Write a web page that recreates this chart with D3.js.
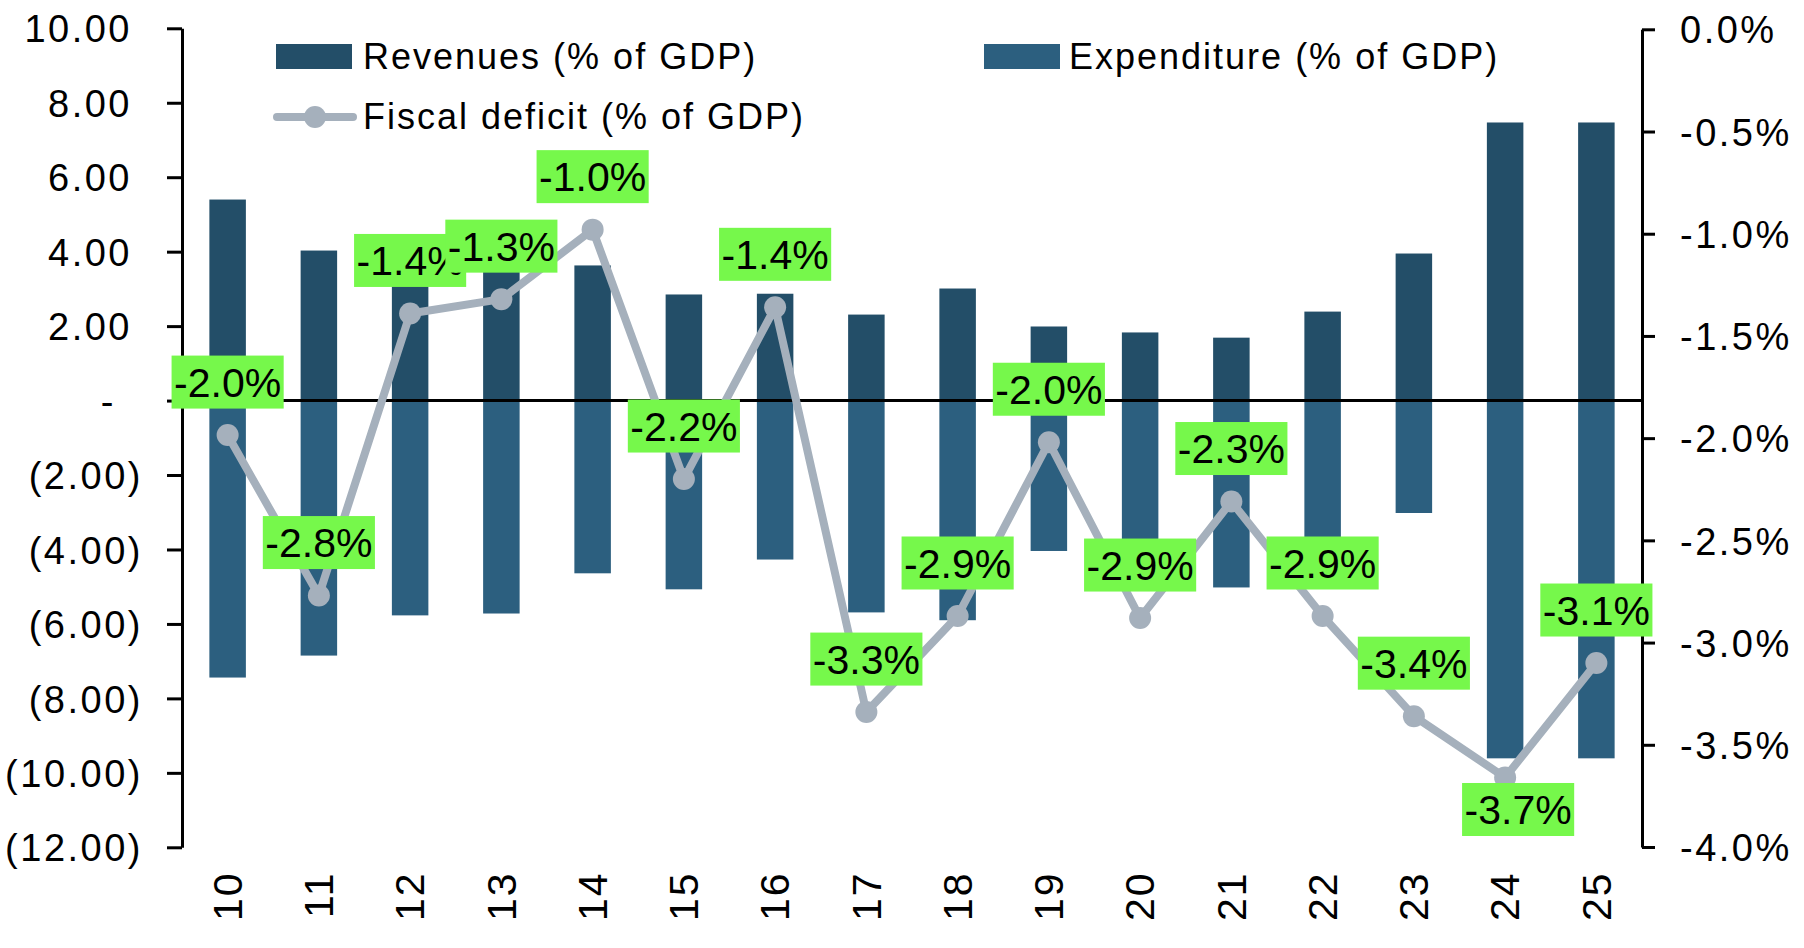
<!DOCTYPE html>
<html>
  <head>
    <meta charset="utf-8" />
    <title>Revenues, expenditure and fiscal deficit</title>
    <script src="https://d3js.org/d3.v7.min.js"></script>
    <style>
      body {
        margin: 0;
        background: #fff;
      }
      svg text {
        font-family: "Liberation Sans", Arial, sans-serif;
        fill: #000;
      }
      text.tick-label {
        font-size: 38px;
        letter-spacing: 2.5px;
      }
      text.legend {
        font-size: 36px;
        letter-spacing: 2px;
      }
      text.xlab {
        font-size: 41px;
        letter-spacing: 2px;
      }
      text.dlabel {
        font-size: 41px;
      }
    </style>
  </head>
  <body>
    <svg id="chart" width="1804" height="948"></svg>

    <script>
      // --- data ---
      const years = ["10", "11", "12", "13", "14", "15", "16", "17",
                     "18", "19", "20", "21", "22", "23", "24", "25"];
      const revenues = [5.40, 4.03, 3.35, 3.55, 3.63, 2.85, 2.87, 2.31,
                        3.01, 1.99, 1.83, 1.69, 2.39, 3.95, 7.47, 7.47];
      const expenditure = [-7.44, -6.85, -5.77, -5.72, -4.64, -5.07, -4.27, -5.69,
                           -5.90, -4.04, -4.60, -5.02, -4.20, -3.02, -9.61, -9.61];
      const deficit = [-1.985, -2.77, -1.39, -1.32, -0.98, -2.20, -1.36, -3.34,
                       -2.87, -2.02, -2.88, -2.31, -2.87, -3.36, -3.66, -3.10];
      // where each data label sits relative to its point
      const labelSide = ["above", "above", "above", "above", "above", "above", "above", "above",
                         "above", "above", "above", "above", "above", "above", "below", "above"];
      const leftTicks = [10, 8, 6, 4, 2, 0, -2, -4, -6, -8, -10, -12];
      const rightTicks = [0, -0.5, -1, -1.5, -2, -2.5, -3, -3.5, -4];
      const seriesNames = ["Revenues (% of GDP)", "Expenditure (% of GDP)", "Fiscal deficit (% of GDP)"];

      const revColor = "#234e68";
      const expColor = "#2c5f7f";
      const lineColor = "#a5b0bc";
      const labelBg = "#76f84b";

      const svg = d3.select("#chart");
      svg.append("rect").attr("width", 1804).attr("height", 948).attr("fill", "#fff");

      // scales
      const x = d3.scaleBand().domain(years).range([182, 1642]).paddingInner(0.6).paddingOuter(0.3);
      const yL = d3.scaleLinear().domain([-12, 10]).range([847.3, 28.3]);
      const yR = d3.scaleLinear().domain([-4, 0]).range([847, 29.3]);
      const cx = (i) => x(years[i]) + x.bandwidth() / 2;

      // bars
      svg.append("g")
        .selectAll("rect")
        .data(revenues)
        .join("rect")
        .attr("x", (d, i) => x(years[i]))
        .attr("width", x.bandwidth())
        .attr("y", (d) => yL(d))
        .attr("height", (d) => yL(0) - yL(d))
        .attr("fill", revColor);

      svg.append("g")
        .selectAll("rect")
        .data(expenditure)
        .join("rect")
        .attr("x", (d, i) => x(years[i]))
        .attr("width", x.bandwidth())
        .attr("y", yL(0))
        .attr("height", (d) => yL(d) - yL(0))
        .attr("fill", expColor);

      // left axis
      const leftAxis = d3.axisLeft(yL)
        .tickValues(leftTicks)
        .tickSize(15)
        .tickSizeOuter(0)
        .tickPadding(24)
        .tickFormat((d) => (d > 0 ? d.toFixed(2) : d < 0 ? "(" + (-d).toFixed(2) + ")" : "-"));
      const gL = svg.append("g").attr("transform", "translate(182,0)").call(leftAxis);
      gL.attr("font-size", null).attr("font-family", null);
      gL.selectAll("path, line").attr("stroke", "#000").attr("stroke-width", 3);
      gL.selectAll("text")
        .attr("class", "tick-label")
        .attr("dy", "0.36em")
        .attr("dx", (d) => (d > 0 ? -11 : d === 0 ? -27 : 0));

      // right axis
      const rightAxis = d3.axisRight(yR)
        .tickValues(rightTicks)
        .tickSize(13)
        .tickSizeOuter(0)
        .tickPadding(25)
        .tickFormat((d) => d.toFixed(1) + "%");
      const gR = svg.append("g").attr("transform", "translate(1642,0)").call(rightAxis);
      gR.attr("font-size", null).attr("font-family", null);
      gR.selectAll("path, line").attr("stroke", "#000").attr("stroke-width", 3);
      gR.selectAll("text").attr("class", "tick-label").attr("dy", "0.36em");

      // category axis, rotated labels, no axis line
      const gX = svg.append("g")
        .attr("transform", "translate(0,871.5)")
        .call(d3.axisBottom(x).tickSize(0).tickPadding(0));
      gX.attr("font-size", null).attr("font-family", null);
      gX.select(".domain").remove();
      gX.selectAll("text")
        .attr("class", "xlab")
        .attr("transform", "rotate(-90)")
        .attr("text-anchor", "end")
        .attr("x", 0)
        .attr("y", 0)
        .attr("dy", "0.35em");

      // zero line
      svg.append("line")
        .attr("x1", 182)
        .attr("x2", 1642)
        .attr("y1", yL(0))
        .attr("y2", yL(0))
        .attr("stroke", "#000")
        .attr("stroke-width", 3);

      // fiscal deficit line + markers
      const line = d3.line()
        .x((d, i) => cx(i))
        .y((d) => yR(d));
      svg.append("path")
        .datum(deficit)
        .attr("d", line)
        .attr("fill", "none")
        .attr("stroke", lineColor)
        .attr("stroke-width", 8)
        .attr("stroke-linejoin", "round");
      svg.append("g")
        .selectAll("circle")
        .data(deficit)
        .join("circle")
        .attr("cx", (d, i) => cx(i))
        .attr("cy", (d) => yR(d))
        .attr("r", 11)
        .attr("fill", lineColor);

      // data labels with green boxes
      const labels = svg.append("g")
        .selectAll("g")
        .data(deficit)
        .join("g")
        .attr("transform", (d, i) => {
          const below = labelSide[i] === "below";
          return `translate(${cx(i) + (below ? 13 : 0)},${yR(d) + (below ? 32 : -53)})`;
        });
      labels.each(function (d) {
        const g = d3.select(this);
        const t = g.append("text")
          .attr("class", "dlabel")
          .attr("text-anchor", "middle")
          .attr("dy", "0.358em")
          .text(d.toFixed(1) + "%");
        const w = t.node().getComputedTextLength() + 5;
        g.insert("rect", "text")
          .attr("x", -w / 2)
          .attr("y", -26.5)
          .attr("width", w)
          .attr("height", 53)
          .attr("fill", labelBg);
      });

      // legend
      const legend = svg.append("g");
      legend.append("rect").attr("x", 276).attr("y", 44).attr("width", 76).attr("height", 25).attr("fill", revColor);
      legend.append("text").attr("class", "legend").attr("x", 363).attr("y", 68.5).text(seriesNames[0]);
      legend.append("rect").attr("x", 984).attr("y", 44).attr("width", 76).attr("height", 25).attr("fill", expColor);
      legend.append("text").attr("class", "legend").attr("x", 1069).attr("y", 68.5).text(seriesNames[1]);
      legend.append("line")
        .attr("x1", 277).attr("x2", 353).attr("y1", 117).attr("y2", 117)
        .attr("stroke", lineColor).attr("stroke-width", 8).attr("stroke-linecap", "round");
      legend.append("circle").attr("cx", 315).attr("cy", 117).attr("r", 11).attr("fill", lineColor);
      legend.append("text").attr("class", "legend").attr("x", 363).attr("y", 129).text(seriesNames[2]);
    </script>
  </body>
</html>
